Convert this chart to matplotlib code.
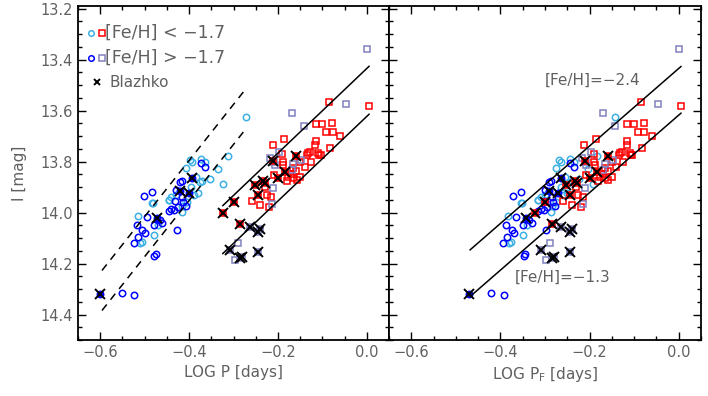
import matplotlib
matplotlib.use("Agg")
import matplotlib.pyplot as plt
from matplotlib.ticker import MultipleLocator
import numpy as np

# --- data (log P [days], I [mag]) --------------------------------------------
# RRc (circles), metal-poor: [Fe/H] < -1.7
c_poor_p = [-0.272, -0.313, -0.323, -0.334, -0.353, -0.365, -0.394, -0.406, -0.385,
            -0.375, -0.395, -0.370, -0.380, -0.405, -0.415, -0.417, -0.445, -0.470,
            -0.479, -0.482, -0.514, -0.510, -0.507, -0.430, -0.440, -0.390, -0.398,
            -0.374, -0.484, -0.446]
c_poor_i = [13.627, 13.780, 13.890, 13.830, 13.870, 13.800, 13.800, 13.825, 13.860,
            13.880, 13.900, 13.875, 13.925, 13.960, 13.975, 13.997, 13.950, 14.050,
            14.090, 13.963, 14.013, 14.120, 14.115, 13.930, 13.940, 13.930, 13.793,
            13.790, 13.963, 13.950]
# RRc, metal-rich: [Fe/H] > -1.7
c_rich_p = [-0.551, -0.523, -0.478, -0.474, -0.525, -0.515, -0.505, -0.500, -0.518,
            -0.494, -0.501, -0.484, -0.480, -0.465, -0.460, -0.446, -0.433, -0.425,
            -0.428, -0.407, -0.420, -0.365, -0.430, -0.415, -0.374, -0.416, -0.431,
            -0.413, -0.440]
c_rich_i = [14.314, 14.324, 14.169, 14.163, 14.118, 14.095, 14.070, 14.080, 14.048,
            14.016, 13.937, 13.920, 14.050, 14.030, 14.040, 13.996, 13.991, 13.980,
            14.068, 13.975, 13.882, 13.820, 13.910, 13.940, 13.807, 13.878, 13.953,
            13.957, 13.988]
# RRab (squares), metal-poor
s_poor_p = [-0.085, 0.005, -0.115, -0.100, -0.078, -0.092, -0.077, -0.061, -0.115,
            -0.186, -0.212, -0.117, -0.083, -0.128, -0.109, -0.104, -0.135, -0.132,
            -0.107, -0.189, -0.166, -0.177, -0.165, -0.150, -0.188, -0.159, -0.208,
            -0.170, -0.158, -0.180, -0.259, -0.240, -0.230, -0.225, -0.215, -0.220,
            -0.190, -0.150, -0.140, -0.125]
s_poor_i = [13.565, 13.583, 13.652, 13.652, 13.650, 13.686, 13.686, 13.700, 13.719,
            13.711, 13.735, 13.737, 13.745, 13.761, 13.767, 13.776, 13.774, 13.767,
            13.774, 13.800, 13.826, 13.862, 13.865, 13.860, 13.813, 13.839, 13.852,
            13.850, 13.872, 13.875, 13.954, 13.970, 13.900, 13.930, 13.940, 13.980,
            13.770, 13.800, 13.820, 13.800]
# RRab, metal-rich
s_rich_p = [0.001, -0.169, -0.046, -0.142, -0.197, -0.166, -0.147, -0.218, -0.209,
            -0.169, -0.210, -0.214, -0.289, -0.297, -0.207]
s_rich_i = [13.360, 13.608, 13.574, 13.660, 13.763, 13.810, 13.795, 13.787, 13.800,
            13.835, 13.902, 13.967, 14.120, 14.185, 13.813]

# Blazhko stars, by group
bz_c_rich_p = [-0.600, -0.473, -0.394, -0.420, -0.400]
bz_c_rich_i = [14.320, 14.022, 13.865, 13.915, 13.924]
bz_s_poor_p = [-0.200, -0.184, -0.159, -0.210, -0.229, -0.252, -0.244, -0.233,
               -0.300, -0.323, -0.285]
bz_s_poor_i = [13.865, 13.842, 13.780, 13.797, 13.885, 13.891, 13.930, 13.878,
               13.957, 14.003, 14.046]
bz_s_rich_p = [-0.263, -0.244, -0.240, -0.308, -0.285, -0.280, -0.244]
bz_s_rich_i = [14.055, 14.075, 14.065, 14.146, 14.179, 14.176, 14.153]

FUND_SHIFT = 0.13  # log P_F = log P + shift for RRc

# PL relations I = a + b log P  (intercepts, slopes, x ranges)
dash_a = [12.916, 13.073]
dash_b = -2.2
dash_x = (-0.596, -0.272)
left_a = [13.435, 13.623]
left_b = -1.66
left_x = (-0.324, 0.005)
right_a = [13.435, 13.618]
right_b = -1.52
right_x = (-0.468, 0.005)

CYAN = "#3cb0e4"
BLUE = "#0000ff"
RED = "#ff0000"
PURP = "#8080c0"
GREY = "#606060"

plt.rcParams["font.family"] = "DejaVu Sans"
fig = plt.figure(figsize=(7.08, 3.96), dpi=100)
ax1 = fig.add_axes([78 / 708, 1 - 340 / 396, 311 / 708, 334 / 396])
ax2 = fig.add_axes([389 / 708, 1 - 340 / 396, 312 / 708, 334 / 396])

ms, mew = 4.6, 1.1


def draw(ax, cshift):
    sh = lambda p: np.asarray(p) + cshift
    ax.plot(sh(c_poor_p), c_poor_i, "o", ms=ms, mfc="none", mec=CYAN, mew=mew)
    ax.plot(sh(c_rich_p), c_rich_i, "o", ms=ms, mfc="none", mec=BLUE, mew=mew)
    ax.plot(s_poor_p, s_poor_i, "s", ms=ms, mfc="none", mec=RED, mew=mew)
    ax.plot(s_rich_p, s_rich_i, "s", ms=ms, mfc="none", mec=PURP, mew=mew)
    # Blazhko: filled symbol plus black cross
    ax.plot(sh(bz_c_rich_p), bz_c_rich_i, "o", ms=ms, mfc=BLUE, mec=BLUE, mew=mew)
    ax.plot(bz_s_poor_p, bz_s_poor_i, "s", ms=ms, mfc=RED, mec=RED, mew=mew)
    ax.plot(bz_s_rich_p, bz_s_rich_i, "s", ms=ms, mfc=PURP, mec=PURP, mew=mew)
    for p, i in [(sh(bz_c_rich_p), bz_c_rich_i), (bz_s_poor_p, bz_s_poor_i),
                 (bz_s_rich_p, bz_s_rich_i)]:
        ax.plot(p, i, "x", ms=6.5, mec="black", mew=1.4)


draw(ax1, 0.0)
draw(ax2, FUND_SHIFT)

for a in dash_a:
    x = np.array(dash_x)
    ax1.plot(x, a + dash_b * x, color="black", lw=1.1, ls=(0, (5, 4)))
for a in left_a:
    x = np.array(left_x)
    ax1.plot(x, a + left_b * x, color="black", lw=1.1)
for a in right_a:
    x = np.array(right_x)
    ax2.plot(x, a + right_b * x, color="black", lw=1.1)

for ax in (ax1, ax2):
    ax.set_xlim(-0.65, 0.05)
    ax.set_ylim(14.5, 13.19)
    ax.xaxis.set_major_locator(MultipleLocator(0.2))
    ax.xaxis.set_minor_locator(MultipleLocator(0.05))
    ax.yaxis.set_major_locator(MultipleLocator(0.2))
    ax.yaxis.set_minor_locator(MultipleLocator(0.05))
    ax.tick_params(which="both", direction="in", top=True, right=True,
                   labelsize=10.5, labelcolor=GREY, width=1.0)
    ax.tick_params(which="major", length=6)
    ax.tick_params(which="minor", length=3)
    for s in ax.spines.values():
        s.set_linewidth(1.3)
    ax.xaxis.set_major_formatter(plt.FuncFormatter(
        lambda v, _: f"{v:.1f}".replace("-", "\u2212")))

ax1.yaxis.set_major_formatter(plt.FuncFormatter(lambda v, _: f"{v:.1f}"))
ax2.tick_params(labelleft=False)

ax1.set_xlabel("LOG P [days]", fontsize=11, color=GREY, labelpad=4)
ax2.set_xlabel(r"LOG P$_{\mathregular{F}}$ [days]", fontsize=11, color=GREY, labelpad=4)
ax1.set_ylabel("I [mag]", fontsize=11, color=GREY, labelpad=10)

# legend drawn by hand
lg = [(CYAN, RED, "[Fe/H] < \u22121.7", 0.920), (BLUE, PURP, "[Fe/H] > \u22121.7", 0.844)]
for cc, sc, lab, yy in lg:
    ax1.plot(0.041, yy, "o", ms=4, mfc="none", mec=cc, mew=mew, transform=ax1.transAxes)
    ax1.plot(0.077, yy, "s", ms=4, mfc="none", mec=sc, mew=mew, transform=ax1.transAxes)
    ax1.text(0.088, yy, lab, transform=ax1.transAxes, fontsize=12.5, color=GREY,
             va="center", ha="left")
ax1.plot(0.060, 0.772, "x", ms=4.5, mec="black", mew=1.4, transform=ax1.transAxes)
ax1.text(0.100, 0.772, "Blazhko", transform=ax1.transAxes, fontsize=11, color=GREY,
         va="center", ha="left")

ax2.text(0.50, 0.778, "[Fe/H]=\u22122.4", transform=ax2.transAxes, fontsize=11,
         color=GREY, va="center", ha="left")
ax2.text(0.404, 0.189, "[Fe/H]=\u22121.3", transform=ax2.transAxes, fontsize=11,
         color=GREY, va="center", ha="left")

fig.savefig("out.png", dpi=100)
